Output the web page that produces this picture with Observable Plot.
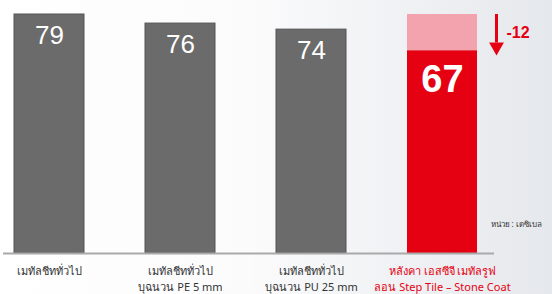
<!DOCTYPE html>
<html>
<head>
<meta charset="utf-8">
<script src="https://cdn.jsdelivr.net/npm/d3@7"></script>
<script src="https://cdn.jsdelivr.net/npm/@observablehq/plot@0.6"></script>
<style>
  html, body { margin: 0; padding: 0; }
  body {
    width: 552px; height: 294px; overflow: hidden;
    background: linear-gradient(to right, #ffffff 0%, #fbfbfc 45%, #e5e8ec 100%);
    font-family: "Noto Sans", "DejaVu Sans", sans-serif;
  }
  svg { background: transparent !important; display: block; }
</style>
</head>
<body>
<div id="chart"></div>
<script>
// Data
const categories = ["general", "pe5", "pu25", "scg"];
const values = [79, 76, 74, 67];
const baselineBefore = 79;     // value before (light pink part on the SCG bar)
const changeLabel = "-12";
const labelLine1 = ["เมทัลชีททั่วไป", "เมทัลชีททั่วไป", "เมทัลชีททั่วไป", "หลังคา เอสซีจี เมทัลรูฟ"];
const labelLine2 = ["", "บุฉนวน PE 5 mm", "บุฉนวน PU 25 mm", "ลอน Step Tile – Stone Coat"];
const highlight = [false, false, false, true];
const unitLabel = "หน่วย : เดซิเบล";

const rows = categories.map((c, i) => ({
  cat: c, value: values[i], hl: highlight[i], l1: labelLine1[i], l2: labelLine2[i]
}));
const hlRow = rows.filter(d => d.hl);
const normRows = rows.filter(d => !d.hl);
const numFont = "'Liberation Sans', Arial, sans-serif";

const chart = Plot.plot({
  width: 552,
  height: 294,
  marginTop: 14,
  marginBottom: 41,
  marginLeft: 3,
  marginRight: 58,
  style: { background: "transparent", fontFamily: "'Noto Sans', 'DejaVu Sans', sans-serif" },
  x: { domain: categories, range: [13.6, 477.7], paddingInner: 0.467, paddingOuter: 0, axis: null },
  y: { domain: [0, 79], axis: null },
  marks: [
    // light "before" part on highlighted bar
    Plot.barY(hlRow, { x: "cat", y1: d => d.value, y2: () => baselineBefore, fill: "#f3a3ae" }),
    // gray bars
    Plot.barY(normRows, { x: "cat", y: "value", fill: "#6b6b6b", stroke: "#555", strokeWidth: 1 }),
    // red bar
    Plot.barY(hlRow, { x: "cat", y: "value", fill: "#e50012" }),
    // baseline
    Plot.ruleY([0], { stroke: "#a9a9a9", strokeWidth: 2 }),
    // value labels
    Plot.text(normRows, { x: "cat", y: "value", text: d => String(d.value), dy: 21, fill: "white", fontSize: 26, fontFamily: numFont, lineAnchor: "middle" }),
    Plot.text(hlRow, { x: "cat", y: "value", text: d => String(d.value), dy: 29, fill: "white", fontSize: 38, fontWeight: "bold", fontFamily: numFont, lineAnchor: "middle" }),
    // arrow
    Plot.ruleX(hlRow, { x: "cat", y1: () => baselineBefore, y2: d => d.value + 2.6, dx: 54, stroke: "#e50012", strokeWidth: 3 }),
    Plot.dot(hlRow, { x: "cat", y: d => d.value + 1.3, dx: 54, symbol: "triangle", rotate: 180, r: 5.5, fill: "#e50012", stroke: "none" }),
    Plot.text(hlRow, { x: "cat", y: () => baselineBefore, text: () => changeLabel, dx: 64, dy: 18, textAnchor: "start", fill: "#e50012", fontSize: 16, fontWeight: "bold", fontFamily: numFont, letterSpacing: 1, lineAnchor: "middle" }),
    // category labels
    Plot.text(rows, { x: "cat", y: 0, text: "l1", dy: 18, lineAnchor: "middle", fontSize: 11, fill: d => d.hl ? "#e50012" : "#333", fontWeight: d => d.hl ? "bold" : "normal" }),
    Plot.text(rows, { x: "cat", y: 0, text: "l2", dy: 34, lineAnchor: "middle", fontSize: 11, fill: d => d.hl ? "#e50012" : "#333", fontWeight: d => d.hl ? "bold" : "normal" }),
    // unit
    Plot.text([unitLabel], { frameAnchor: "bottom-right", textAnchor: "start", dx: -4, dy: -27, fontSize: 8, fill: "#333" })
  ]
});
document.getElementById("chart").appendChild(chart);
</script>
</body>
</html>
